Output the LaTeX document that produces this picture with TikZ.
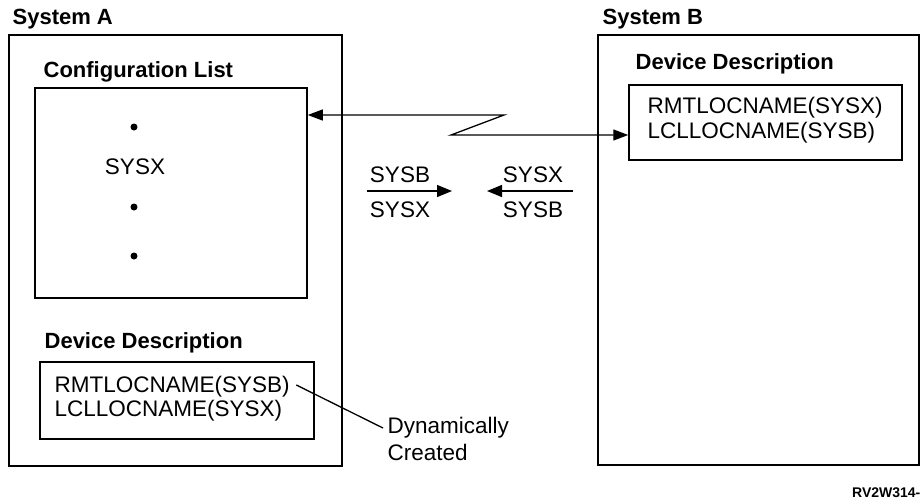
\documentclass[tikz,border=0pt]{standalone}
\usepackage{fontspec}
\setmainfont{Liberation Sans}
\usetikzlibrary{arrows.meta}

\begin{document}
\begin{tikzpicture}[x=1pt,y=-1pt,line width=1.3pt,
    frame/.style={draw,line width=1.5pt,inner sep=0pt},
    title/.style={font=\fontsize{22}{24}\selectfont\bfseries,anchor=base west,inner sep=0pt},
    entry/.style={font=\fontsize{22.5}{24}\selectfont,inner sep=0pt},
    dot/.style={circle,fill,inner sep=0pt,minimum size=7pt},
    tip/.style={-{Triangle[length=15pt,width=12pt]}}]
  \useasboundingbox (0,0) rectangle (921,499);

  % System A
  \node [title] (titleA) at (12,24) {System A};
  \node [frame,minimum width=333pt,minimum height=431pt] (sysA) at (175.5,250.5) {};
  \node [title] (cfgtitle) at (43,77) {Configuration List};
  \node [frame,minimum width=272pt,minimum height=210pt] (cfg) at (171,193) {};
  \node [dot] (dotA) at (134,127) {};
  \node [entry] (cfgsys) at (135,167) {SYSX};
  \node [dot] (dotB) at (134,207) {};
  \node [dot] (dotC) at (134,256) {};

  \node [title] (devtitleA) at (44,348) {Device Description};
  \node [frame,minimum width=274pt,minimum height=77pt] (devA) at (177,400.5) {};
  \node [entry,anchor=west] (rmtA) at (54,387) {RMTLOCNAME(SYSB)};
  \node [entry,anchor=west] (lclA) at (54,411) {LCLLOCNAME(SYSX)};

  \node [entry,anchor=west] (dyn) at (387,428) {Dynamically};
  \node [entry,anchor=west] (crt) at (387,452) {Created};
  \draw ([xshift=6pt,yshift=2pt]rmtA.east) -- ([xshift=-4pt]dyn.west);

  % System B
  \node [title] (titleB) at (602,24) {System B};
  \node [frame,minimum width=321pt,minimum height=430pt] (sysB) at (758.5,250) {};
  \node [title] (devtitleB) at (635,69) {Device Description};
  \node [frame,minimum width=273pt,minimum height=75pt] (devB) at (765.5,122.5) {};
  \node [entry,anchor=west] (rmtB) at (647,108) {RMTLOCNAME(SYSX)};
  \node [entry,anchor=west] (lclB) at (647,133) {LCLLOCNAME(SYSB)};

  % link between the systems
  \coordinate (zzA) at (504,115);
  \coordinate (zzB) at (451,135);
  \draw [{Triangle[length=15pt,width=11pt]}-{Triangle[length=15pt,width=11pt]}]
    (cfg.east |- zzA) -- (zzA) -- (zzB) -- (zzB -| devB.west);

  % names sent each way
  \coordinate (outA) at (367,191);
  \coordinate (inA) at (452,191);
  \draw [tip] (outA) -- (inA);
  \node [entry] (sendA) at (400,175) {SYSB};
  \node [entry] (recvA) at (400,210) {SYSX};

  \coordinate (outB) at (573,191);
  \coordinate (inB) at (487,191);
  \draw [tip] (outB) -- (inB);
  \node [entry] (sendB) at (533,175) {SYSX};
  \node [entry] (recvB) at (533,210) {SYSB};

  \node [font=\fontsize{14}{16}\selectfont\bfseries,anchor=base east,inner sep=0pt] (figid) at (921,497) {RV2W314-};
\end{tikzpicture}
\end{document}
